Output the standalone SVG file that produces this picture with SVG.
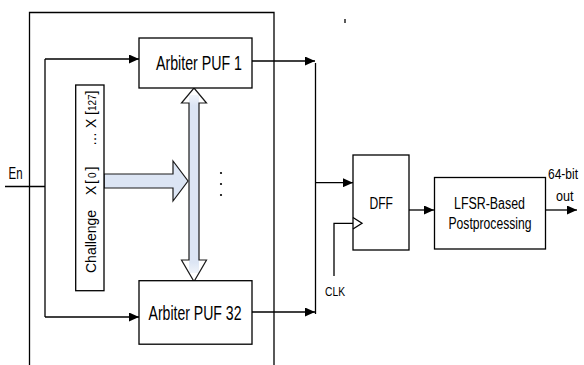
<svg xmlns="http://www.w3.org/2000/svg" width="584" height="365" viewBox="0 0 584 365">
<style>
.ln{fill:none;stroke:#000;stroke-width:1.3}
.bx{fill:#fff;stroke:#000;stroke-width:1.3}
.t{font-family:"Liberation Sans",Arial,sans-serif;fill:#000}
.big{fill:#dce5f4;stroke:#1a1a1a;stroke-width:1.2}
</style>
<defs>
<marker id="ah" markerUnits="userSpaceOnUse" markerWidth="11" markerHeight="9" refX="10" refY="4.5" orient="auto">
<path d="M0,0 L10,4.5 L0,9 Z" fill="#000"/>
</marker>
<linearGradient id="sh" x1="0" y1="0" x2="0" y2="1">
<stop offset="0" stop-color="#dce5f4" stop-opacity="0.4"/>
<stop offset="0.06" stop-color="#dce5f4"/>
<stop offset="0.94" stop-color="#dce5f4"/>
<stop offset="1" stop-color="#dce5f4" stop-opacity="0.4"/>
</linearGradient>
</defs>
<rect width="584" height="365" fill="#fff"/>
<path class="ln" d="M29.5,366 V12.5 H274 V366"/>
<line class="ln" x1="345" y1="19" x2="345" y2="23"/>
<g id="connectors">
<line class="ln" x1="5" y1="186.5" x2="45" y2="186.5"/>
<line class="ln" x1="45" y1="59" x2="45" y2="317"/>
<line class="ln" x1="45" y1="59" x2="139" y2="59" marker-end="url(#ah)"/>
<line class="ln" x1="45" y1="317" x2="139" y2="317" marker-end="url(#ah)"/>
<line class="ln" x1="252" y1="61" x2="315" y2="61" marker-end="url(#ah)"/>
<line class="ln" x1="252" y1="312" x2="315" y2="312" marker-end="url(#ah)"/>
<line class="ln" x1="315.5" y1="63" x2="315.5" y2="314"/>
<line class="ln" x1="315.5" y1="182.7" x2="353" y2="182.7" marker-end="url(#ah)"/>
<polyline class="ln" points="353,223.3 334,223.3 334,276"/>
<line class="ln" x1="409" y1="210" x2="434" y2="210" marker-end="url(#ah)"/>
<line class="ln" x1="546" y1="210" x2="577" y2="210" marker-end="url(#ah)"/>
<polygon class="big" points="104,174 173,174 173,161 188,181 173,201 173,188 104,188"/>
<polygon points="194,88 206.5,103 181.5,103" fill="#fff"/>
<polygon points="194,281.5 206.5,260 181.5,260" fill="#fff"/>
<rect x="189" y="95" width="10" height="178" fill="url(#sh)"/>
<polygon points="194,88 206.5,103 199,103 199,260 206.5,260 194,281.5 181.5,260 189,260 189,103 181.5,103" fill="none" stroke="#1a1a1a" stroke-width="1.2"/>
<circle cx="221" cy="173" r="1.1" fill="#000"/>
<circle cx="221" cy="184" r="1.1" fill="#000"/>
<circle cx="221" cy="195" r="1.1" fill="#000"/>
</g>
<g id="en"><text class="t" x="8.5" y="178.5" font-size="17" textLength="14" lengthAdjust="spacingAndGlyphs">En</text></g>
<g id="puf1">
<rect class="bx" x="139" y="38" width="113" height="50"/>
<text class="t" x="156" y="70" font-size="20" textLength="86" lengthAdjust="spacingAndGlyphs">Arbiter PUF 1</text>
</g>
<g id="puf32">
<rect class="bx" x="139" y="280.7" width="113" height="63.5"/>
<text class="t" x="148.5" y="320" font-size="20" textLength="93" lengthAdjust="spacingAndGlyphs">Arbiter PUF 32</text>
</g>
<g id="challenge">
<rect class="bx" x="75.7" y="85" width="28.3" height="205.7"/>
<text class="t" transform="rotate(-90 96 273)" y="273" font-size="14"><tspan x="96">Challenge</tspan><tspan x="174">X</tspan><tspan x="185" letter-spacing="2">[<tspan font-size="10">0</tspan>]</tspan><tspan x="223">…</tspan><tspan x="241">X</tspan><tspan x="254">[<tspan font-size="10">127</tspan>]</tspan></text>
</g>
<g id="dff">
<rect class="bx" x="353" y="155" width="56" height="95"/>
<polyline class="ln" points="353,217.5 362,223.3 353,229"/>
<text class="t" x="369.5" y="209" font-size="17" textLength="23.5" lengthAdjust="spacingAndGlyphs">DFF</text>
</g>
<g id="clk"><text class="t" x="325" y="295.5" font-size="13" textLength="20" lengthAdjust="spacingAndGlyphs">CLK</text></g>
<g id="lfsr">
<rect class="bx" x="434.5" y="177.5" width="111" height="71.5"/>
<text class="t" x="454" y="209" font-size="16" textLength="71" lengthAdjust="spacingAndGlyphs">LFSR-Based</text>
<text class="t" x="448.5" y="229" font-size="16" textLength="83" lengthAdjust="spacingAndGlyphs">Postprocessing</text>
</g>
<g id="out">
<text class="t" x="548" y="179" font-size="15" textLength="30" lengthAdjust="spacingAndGlyphs">64-bit</text>
<text class="t" x="556" y="200.5" font-size="15" textLength="17.5" lengthAdjust="spacingAndGlyphs">out</text>
</g>
</svg>
